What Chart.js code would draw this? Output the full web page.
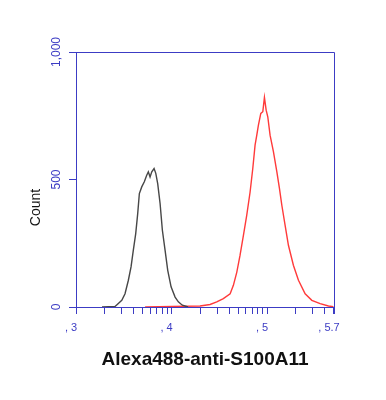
<!DOCTYPE html>
<html>
<head>
<meta charset="utf-8">
<script src="https://cdn.jsdelivr.net/npm/chart.js@4"></script>
<style>
  body { margin: 0; background: #fff; }
  #wrap { width: 386px; height: 400px; }
</style>
</head>
<body>
<div id="wrap"><canvas id="grafico" width="386" height="400"></canvas></div>
<script>
// histograma: eixo x em décadas (log10 da fluorescência), eixo y = contagem
const blackX = [3.272, 3.408, 3.426, 3.479, 3.513, 3.548, 3.576, 3.600, 3.625, 3.646, 3.663, 3.688, 3.715, 3.740, 3.757, 3.775, 3.793, 3.817, 3.835, 3.855, 3.880, 3.904, 3.932, 3.960, 3.995, 4.037, 4.071, 4.113, 4.173];
const blackY = [0, 2, 8, 26, 52, 105, 157, 223, 288, 367, 445, 471, 491, 517, 530, 510, 530, 543, 524, 484, 406, 301, 223, 144, 79, 39, 20, 7, 0];

const redX = [3.723, 4.298, 4.403, 4.473, 4.542, 4.613, 4.647, 4.683, 4.717, 4.752, 4.787, 4.822, 4.850, 4.874, 4.892, 4.909, 4.934, 4.955, 4.972, 4.990, 5.007, 5.031, 5.066, 5.102, 5.129, 5.154, 5.188, 5.223, 5.275, 5.328, 5.398, 5.468, 5.555, 5.642, 5.694];
const redY = [0, 4, 10, 20, 33, 52, 85, 137, 203, 281, 360, 451, 543, 635, 674, 713, 759, 766, 822, 772, 746, 674, 609, 530, 465, 399, 321, 242, 164, 105, 52, 26, 13, 4, 1];

// marcas principais do eixo x e seus rótulos
const majorTicks = [3, 4, 5, 5.7];
const majorLabels = [', 3', ', 4', ', 5', ', 5.7'];
const yTicks = [0, 500, 1000];

const azul = '#3c3cc4';

// marcas menores (2..9 em cada década)
const xTicks = [];
for (let d = 3; d < 6; d++) {
  for (let k = 1; k < 10; k++) {
    const v = d + Math.log10(k);
    if (v <= 5.7001) xTicks.push(v);
  }
}
if (!xTicks.includes(5.7)) xTicks.push(5.7);

function rotuloX(v) {
  const i = majorTicks.findIndex(m => Math.abs(m - v) < 1e-6);
  return i >= 0 ? majorLabels[i] : '';
}

const bordaPlugin = {
  id: 'borda',
  afterDraw(chart) {
    const { ctx, chartArea: a } = chart;
    ctx.save();
    ctx.strokeStyle = azul;
    ctx.lineWidth = 1;
    ctx.beginPath();
    ctx.moveTo(a.left, a.top + 0.5);
    ctx.lineTo(a.right + 0.5, a.top + 0.5);
    ctx.lineTo(a.right + 0.5, a.bottom);
    ctx.stroke();
    ctx.restore();
  }
};

const contexto = document.getElementById('grafico').getContext('2d');
new Chart(contexto, {
  type: 'line',
  data: {
    datasets: [
      {
        label: 'controle',
        data: blackX.map((x, i) => ({ x: x, y: blackY[i] })),
        borderColor: '#474747',
        borderWidth: 1.4,
        pointRadius: 0,
        tension: 0
      },
      {
        label: 'S100A11',
        data: redX.map((x, i) => ({ x: x, y: redY[i] })),
        borderColor: '#ff3a3a',
        borderWidth: 1.4,
        pointRadius: 0,
        tension: 0
      }
    ]
  },
  options: {
    responsive: false,
    animation: false,
    layout: { padding: { left: 0, right: 52, top: 52, bottom: 0 } },
    plugins: { legend: { display: false }, tooltip: { enabled: false } },
    scales: {
      x: {
        type: 'linear',
        min: 3,
        max: 5.7,
        afterBuildTicks: (axis) => { axis.ticks = xTicks.map(v => ({ value: v })); },
        afterFit: (axis) => { axis.height = 93; },
        grid: { drawOnChartArea: false, tickLength: 7, color: azul },
        border: { color: azul },
        ticks: {
          autoSkip: false,
          maxRotation: 0,
          padding: 7,
          labelOffset: -5,
          color: azul,
          font: { family: 'Liberation Sans', size: 11 },
          callback: (v) => rotuloX(v)
        },
        title: {
          display: true,
          text: 'Alexa488-anti-S100A11',
          color: '#111',
          font: { family: 'Liberation Sans', size: 19, weight: 'bold' },
          padding: { top: 0, bottom: 29 }
        }
      },
      y: {
        min: 0,
        max: 1000,
        afterBuildTicks: (axis) => { axis.ticks = yTicks.map(v => ({ value: v })); },
        afterFit: (axis) => { axis.width = 76; },
        grid: { drawOnChartArea: false, tickLength: 7, color: azul },
        border: { color: azul },
        ticks: {
          minRotation: 90,
          maxRotation: 90,
          crossAlign: 'center',
          padding: -3,
          color: azul,
          font: { family: 'Liberation Sans', size: 12 }
        },
        title: {
          display: true,
          // espaços no fim empurram o rótulo para baixo, como no original
          text: 'Count\u2002\u2002\u2002\u2002\u2002\u2002\u2002\u2002',
          color: '#111',
          font: { family: 'Liberation Sans', size: 14 },
          padding: { top: 28, bottom: 0 }
        }
      }
    }
  },
  plugins: [bordaPlugin]
});
</script>
</body>
</html>
